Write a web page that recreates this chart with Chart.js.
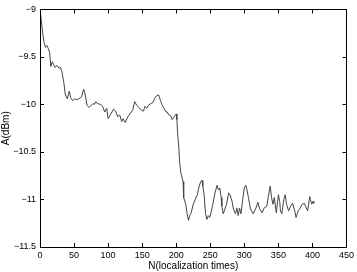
<!DOCTYPE html>
<html>
<head>
<meta charset="utf-8">
<script src="https://cdn.jsdelivr.net/npm/chart.js@4"></script>
<style>
  html, body { margin: 0; padding: 0; background: #fff; }
  #wrap { width: 357px; height: 272px; }
</style>
</head>
<body>
<div id="wrap"><canvas id="rss-chart"></canvas></div>
<script>
var nTimes = [0, 2, 4, 6, 8, 10, 12, 14, 16, 18, 20, 22, 25, 28, 30, 32, 35, 37, 40, 43,
    45, 48, 51, 54, 57, 61, 64, 66, 69, 72, 74, 78, 80, 82, 84, 89, 92, 95, 98, 100,
    104, 108, 111, 114, 117, 120, 122, 125, 129, 132, 136, 139, 142, 145, 149, 152, 154, 157, 159, 163,
    166, 168, 171, 174, 177, 179, 182, 185, 187, 189, 192, 194, 197, 200, 201, 202, 204, 205, 207, 210,
    211, 214, 216, 218, 220, 222, 225, 228, 231, 233, 236, 238, 239, 241, 243, 245, 247, 249, 251, 254,
    257, 260, 262, 264, 266, 267, 269, 272, 274, 277, 279, 282, 284, 287, 289, 291, 293, 295, 298, 300,
    302, 304, 306, 309, 313, 317, 320, 322, 326, 329, 333, 335, 338, 340, 342, 344, 346, 347, 350, 352,
    353, 355, 358, 360, 362, 365, 368, 371, 374, 376, 379, 382, 385, 388, 391, 393, 396, 397, 399, 401, 402];
var aValues = [-9.00, -9.12, -9.25, -9.35, -9.40, -9.38, -9.41, -9.45, -9.60, -9.55, -9.58, -9.61, -9.59, -9.62, -9.61, -9.65, -9.77, -9.89, -9.94, -9.86,
    -9.93, -9.96, -9.94, -9.95, -9.94, -9.92, -9.84, -9.88, -10.01, -10.03, -10.02, -9.99, -10.00, -9.97, -9.99, -10.00, -10.02, -10.08, -10.04, -10.15,
    -10.10, -10.05, -10.07, -10.13, -10.11, -10.18, -10.15, -10.19, -10.13, -10.10, -10.06, -9.97, -10.01, -10.03, -10.06, -10.07, -10.02, -10.04, -10.01, -9.99,
    -9.98, -9.94, -9.91, -9.90, -9.96, -10.00, -10.04, -10.08, -10.08, -10.11, -10.12, -10.16, -10.13, -10.10, -10.16, -10.30, -10.47, -10.61, -10.73, -10.81,
    -10.98, -11.05, -11.15, -11.22, -11.17, -11.14, -11.05, -11.00, -10.95, -10.88, -10.81, -10.80, -10.86, -10.95, -11.15, -11.21, -11.17, -11.19, -11.14, -11.04,
    -10.93, -10.85, -10.90, -10.88, -10.98, -11.07, -11.15, -11.09, -11.05, -10.93, -10.95, -11.02, -11.10, -11.15, -11.09, -11.17, -11.09, -11.15, -10.98, -10.88,
    -10.85, -10.90, -10.98, -11.10, -11.15, -11.09, -11.03, -11.09, -11.14, -11.09, -11.07, -10.98, -10.86, -10.98, -11.05, -10.98, -11.09, -11.14, -10.95, -11.02,
    -11.12, -11.15, -11.00, -10.95, -11.05, -11.12, -11.07, -11.04, -11.12, -11.19, -11.12, -11.09, -11.05, -11.04, -11.09, -11.12, -10.97, -11.00, -11.05, -11.02, -11.04];

var xTicks = [0, 50, 100, 150, 200, 250, 300, 350, 400, 450];
var yTicks = [-11.5, -11, -10.5, -10, -9.5, -9];

var points = nTimes.map(function (n, i) { return { x: n, y: aValues[i] }; });

function minusSign(v) {
    return String(v).replace('-', '\u2212');
}

// MATLAB style box with inward ticks on all four sides
var boxPlugin = {
    id: 'matlabBox',
    afterDraw: function (chart) {
        var ctx = chart.ctx;
        var a = chart.chartArea;
        var xs = chart.scales.x, ys = chart.scales.y;
        var len = 4;
        ctx.save();
        ctx.strokeStyle = '#000';
        ctx.lineWidth = 1;
        ctx.beginPath();
        ctx.rect(Math.round(a.left) + 0.5, Math.round(a.top) + 0.5,
            Math.round(a.right - a.left), Math.round(a.bottom - a.top));
        xTicks.forEach(function (t) {
            var px = Math.round(xs.getPixelForValue(t)) + 0.5;
            ctx.moveTo(px, a.bottom); ctx.lineTo(px, a.bottom - len);
            ctx.moveTo(px, a.top); ctx.lineTo(px, a.top + len);
        });
        yTicks.forEach(function (t) {
            var py = Math.round(ys.getPixelForValue(t)) + 0.5;
            ctx.moveTo(a.left, py); ctx.lineTo(a.left + len, py);
            ctx.moveTo(a.right, py); ctx.lineTo(a.right - len, py);
        });
        ctx.stroke();
        ctx.restore();
    }
};

new Chart(document.getElementById("rss-chart"), {
    type: 'line',
    data: {
        datasets: [
            {
                data: points,
                borderColor: '#444',
                borderWidth: 1,
                pointRadius: 0,
                tension: 0,
                fill: false
            }
        ]
    },
    options: {
        responsive: true,
        maintainAspectRatio: false,
        animation: false,
        layout: { padding: { top: 3, right: 8, left: 0, bottom: 0 } },
        plugins: {
            legend: { display: false },
            tooltip: { enabled: false }
        },
        scales: {
            x: {
                type: 'linear',
                min: 0,
                max: 450,
                grid: { display: false, drawTicks: false },
                border: { display: false },
                afterBuildTicks: function (s) { s.ticks = xTicks.map(function (v) { return { value: v }; }); },
                afterFit: function (s) { s.height = 25; },
                ticks: {
                    color: '#000',
                    padding: 3,
                    maxRotation: 0,
                    font: { family: 'Liberation Sans', size: 9 }
                },
                title: {
                    display: true,
                    text: 'N(localization times)',
                    color: '#000',
                    padding: { top: 0, bottom: 0 },
                    font: { family: 'Liberation Sans', size: 10 }
                }
            },
            y: {
                min: -11.5,
                max: -9,
                grid: { display: false, drawTicks: false },
                border: { display: false },
                afterBuildTicks: function (s) { s.ticks = yTicks.map(function (v) { return { value: v }; }); },
                afterFit: function (s) { s.width = 40; },
                ticks: {
                    color: '#000',
                    padding: 4,
                    font: { family: 'Liberation Sans', size: 9 },
                    callback: function (v) { return minusSign(v); }
                },
                title: {
                    display: true,
                    text: 'A(dBm)',
                    color: '#000',
                    padding: { top: 0, bottom: 0 },
                    font: { family: 'Liberation Sans', size: 10 }
                }
            }
        }
    },
    plugins: [boxPlugin]
});
</script>
</body>
</html>
